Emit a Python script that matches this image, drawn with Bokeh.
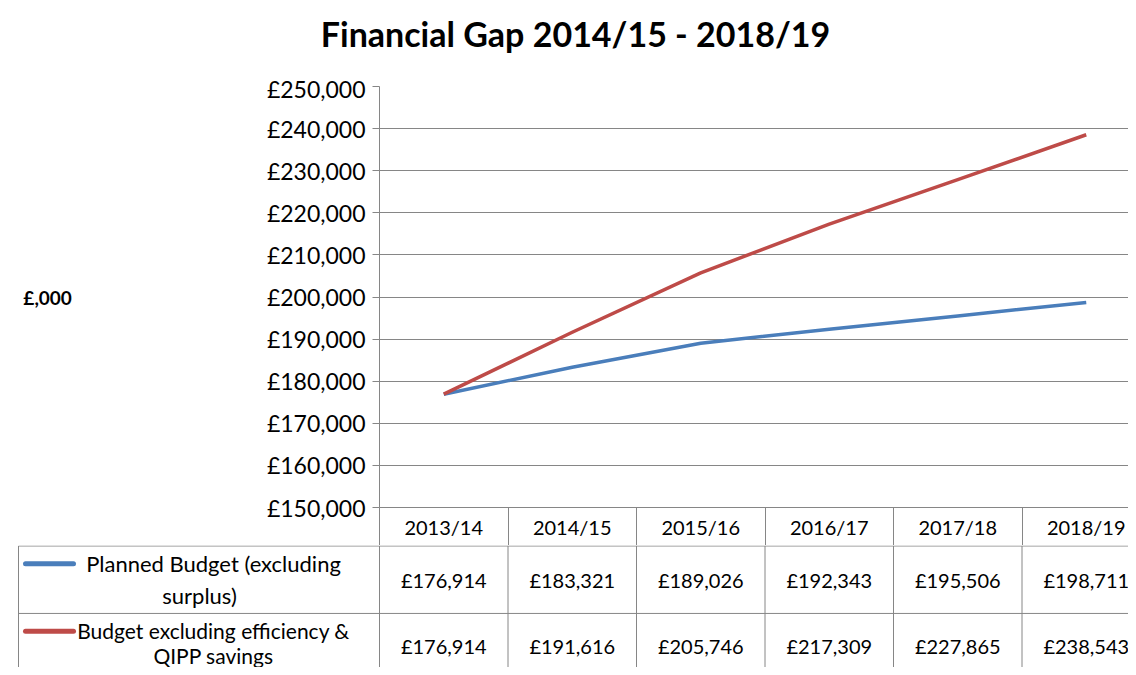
from bokeh.plotting import figure
from bokeh.layouts import column
from bokeh.models import Range1d, FixedTicker
from bokeh.core.properties import value
from bokeh.embed import file_html
from bokeh.resources import INLINE

# ---------------- data ----------------
years = ["2013/14", "2014/15", "2015/16", "2016/17", "2017/18", "2018/19"]
planned_budget = [176914, 183321, 189026, 192343, 195506, 198711]
budget_excl_efficiency = [176914, 191616, 205746, 217309, 227865, 238543]
series_labels = [
    ["Planned Budget (excluding", "surplus)"],
    ["Budget excluding efficiency &", "QIPP savings"],
]
y_tick_values = [150000, 160000, 170000, 180000, 190000, 200000,
                 210000, 220000, 230000, 240000, 250000]
title_text = "Financial Gap 2014/15 - 2018/19"
y_axis_title = "£,000"

# ---------------- styling ----------------
FONT = "Lato"
GRID = "#868686"
BLUE = "#4A7EBB"
RED = "#BE4B48"
W = 1128
TOTAL_H = 667
COL = 128.5            # pixels per category
FRAME_LEFT = 379
FRAME_TOP = 86
FRAME_BOTTOM = 507
HEADER_BOTTOM = 545
TITLE_H = 74
xs = list(range(len(years)))
bounds = [i - 0.5 for i in range(len(years) + 1)]


def px2x(px):
    return -0.5 + (px - FRAME_LEFT) / COL


x_end = px2x(W)
x_start = px2x(0)

# ---------------- title strip ----------------
pt = figure(width=W, height=TITLE_H, x_range=Range1d(0, W), y_range=Range1d(TITLE_H, 0),
            output_backend="svg", toolbar_location=None,
            x_axis_type=None, y_axis_type=None, min_border=0)
pt.frame_align = False
pt.outline_line_color = None
pt.grid.visible = False
pt.text(x=[575], y=[33], text=[title_text], text_font=value(FONT),
        text_font_style="bold", text_font_size="34px", text_color="black",
        text_align="center", text_baseline="middle")

# ---------------- chart (with header row as x axis) ----------------
HA = HEADER_BOTTOM - TITLE_H
HEADER_H = HEADER_BOTTOM - FRAME_BOTTOM
pa = figure(width=W, height=HA, x_range=Range1d(-0.5, x_end),
            y_range=Range1d(150000, 250000), output_backend="svg",
            toolbar_location=None,
            min_border_left=FRAME_LEFT, min_border_right=0,
            min_border_top=FRAME_TOP - TITLE_H,
            min_border_bottom=HEADER_H)
pa.frame_align = False
pa.outline_line_color = None
pa.xgrid.visible = False
pa.ygrid.ticker = FixedTicker(ticks=y_tick_values)
pa.ygrid.grid_line_color = GRID
pa.ygrid.grid_line_width = 1

xa = pa.xaxis[0]
xa.ticker = FixedTicker(ticks=xs, minor_ticks=bounds)
xa.major_label_overrides = {i: y for i, y in enumerate(years)}
xa.major_label_text_font = FONT
xa.major_label_text_font_size = "20px"
xa.major_label_text_color = "black"
xa.major_label_standoff = 7 - HEADER_H
xa.major_tick_out = 0
xa.major_tick_in = 0
xa.major_tick_line_color = None
xa.minor_tick_in = 0
xa.minor_tick_out = HEADER_H
xa.minor_tick_line_color = GRID
xa.axis_line_color = GRID

ya = pa.yaxis[0]
ya.ticker = FixedTicker(ticks=y_tick_values)
ya.major_label_overrides = {v: f"£{v:,}" for v in y_tick_values}
ya.major_label_text_font = FONT
ya.major_label_text_font_size = "23px"
ya.major_label_text_color = "black"
ya.major_label_standoff = 7
ya.major_tick_out = 7
ya.major_tick_in = 0
ya.minor_tick_out = 0
ya.minor_tick_in = 0
ya.major_tick_line_color = GRID
ya.axis_line_color = GRID
ya.axis_label = y_axis_title
ya.axis_label_orientation = "horizontal"
ya.axis_label_text_font = FONT
ya.axis_label_text_font_style = "bold"
ya.axis_label_text_font_size = "19px"
ya.axis_label_text_color = "black"
ya.axis_label_standoff = 192

pa.line(xs, planned_budget, line_color=BLUE, line_width=3.5, line_join="round")
pa.line(xs, budget_excl_efficiency, line_color=RED, line_width=3.5, line_join="round")

# ---------------- data table rows ----------------
HB = TOTAL_H - HEADER_BOTTOM
pb = figure(width=W, height=HB, x_range=Range1d(x_start, x_end),
            y_range=Range1d(TOTAL_H + 0.5, HEADER_BOTTOM - 0.5), output_backend="svg",
            toolbar_location=None, x_axis_type=None, y_axis_type=None, min_border=0)
pb.frame_align = False
pb.outline_line_color = None
pb.grid.visible = False

row_lines = [HEADER_BOTTOM, 613]
x_left = px2x(18)
pb.segment(x0=[x_left] * 2, y0=row_lines, x1=[x_end] * 2, y1=row_lines,
           line_color=GRID, line_width=1)
pb.segment(x0=bounds, y0=[HEADER_BOTTOM] * len(bounds), x1=bounds,
           y1=[TOTAL_H + 1] * len(bounds), line_color=GRID, line_width=1)
pb.segment(x0=[x_left], y0=[HEADER_BOTTOM], x1=[x_left], y1=[TOTAL_H + 1],
           line_color=GRID, line_width=1)

txt = dict(text_font=value(FONT), text_font_size="20px", text_color="black",
           text_align="center", text_baseline="middle")
pb.text(x=xs, y=[579] * len(xs), text=[f"£{v:,}" for v in planned_budget], **txt)
pb.text(x=xs, y=[646] * len(xs), text=[f"£{v:,}" for v in budget_excl_efficiency], **txt)

# legend keys
pb.segment(x0=[px2x(25)] * 2, y0=[563, 631], x1=[px2x(73)] * 2, y1=[563, 631],
           line_color=[BLUE, RED], line_width=5, line_cap="round")
pb.text(x=[px2x(213), px2x(199)], y=[563, 595], text=series_labels[0],
        **dict(txt, text_font_size="22px"))
pb.text(x=[px2x(213), px2x(213)], y=[630, 655], text=series_labels[1],
        **dict(txt, text_font_size="21px"))

layout = column(pt, pa, pb, spacing=0)
open("out.html", "w").write(file_html(layout, INLINE))
